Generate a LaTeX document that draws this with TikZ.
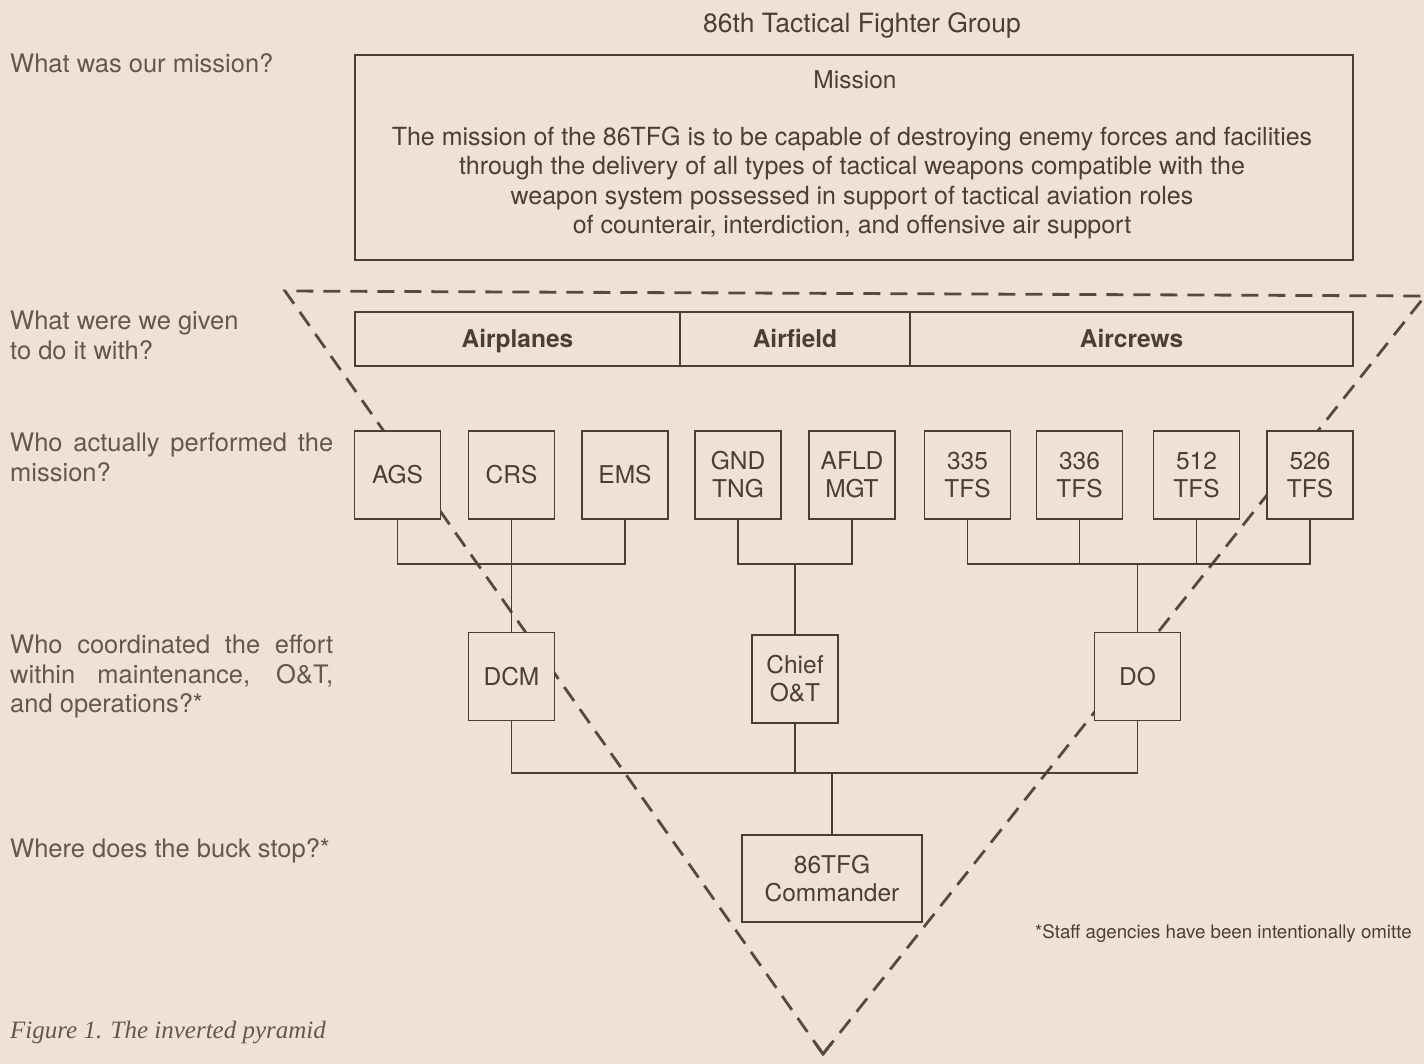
\documentclass[tikz,border=0pt]{standalone}
\usepackage{fontspec}
\setmainfont{TeX Gyre Heros}
\newfontfamily\capfont{Liberation Serif}
\usetikzlibrary{positioning,calc}
\definecolor{paper}{HTML}{EFE2D5}
\definecolor{ink}{HTML}{4B3E36}
\definecolor{pencil}{HTML}{66564C}
\definecolor{rule}{HTML}{5A4840}
\newcommand{\jline}[1]{\makebox[323pt][s]{#1}}
\tikzset{
  unit/.style={draw=ink,line width=1.6pt,fill=paper,text=ink,align=center,font=\fontsize{24.5}{28}\selectfont,minimum width=86pt,minimum height=88pt,inner sep=2pt},
  wide/.style={unit,minimum width=180pt,minimum height=87pt},
  asset/.style={draw=ink,line width=1.6pt,fill=paper,text=ink,font=\fontsize{24.5}{28}\selectfont\bfseries,minimum height=54pt,inner sep=0pt,outer sep=0pt,text height=18pt,text depth=0pt},
  ask/.style={text=pencil,font=\fontsize{25.5}{29.5}\selectfont,align=left,anchor=north west,inner sep=0pt},
  link/.style={draw=ink,line width=1.6pt},
  pyramid/.style={draw=rule,line width=2.8pt,dash pattern=on 17pt off 10pt},
  tip/.style={draw=rule,line width=2.8pt}
}
\begin{document}
\begin{tikzpicture}[x=1pt,y=-1pt]
  \useasboundingbox (0,0) rectangle (1424,1064);
  \clip (0,0) rectangle (1424,1064);
  \fill[paper] (0,0) rectangle (1424,1064);

  % the inverted pyramid goes first, boxes cover it
  \coordinate (tl) at (285,291);
  \coordinate (tr) at (1425,296);
  \coordinate (apex) at (823,1054);
  \draw[pyramid] (apex) -- (tl) -- (tr);
  \draw[pyramid] (apex) -- (tr);
  \draw[tip] ($(apex)!14pt!(tl)$) -- (apex) -- ($(apex)!14pt!(tr)$);

  \node[ask,anchor=base,text=ink,font=\fontsize{26.5}{30}\selectfont] (title) at (862,33) {86th Tactical Fighter Group};
  \node[ask] (q1) at (10,53) {What was our mission?};
  \node[ask] (q2) at (10,311) {What were we given\\to do it with?};
  \node[ask] (q3) at (10,433) {\jline{Who actually performed the}\\mission?};
  \node[ask] (q4) at (10,635) {\jline{Who coordinated the effort}\\\jline{within maintenance, O\&T,}\\and operations?*};
  \node[ask] (q5) at (10,838) {Where does the buck stop?*};

  \node[draw=ink,line width=1.6pt,minimum width=998pt,minimum height=205pt] (mission) at (854,157.5) {};
  \node[text=ink,font=\fontsize{24.5}{29.5}\selectfont] (mhead) at (855,80) {Mission};
  \node[text=ink,font=\fontsize{25}{29.5}\selectfont,align=center] (mtext) at (852,183) {The mission of the 86TFG is to be capable of destroying enemy forces and facilities\\through the delivery of all types of tactical weapons compatible with the\\weapon system possessed in support of tactical aviation roles\\of counterair, interdiction, and offensive air support};

  \node[asset,minimum width=325pt] (planes) at (517.5,339) {Airplanes};
  \node[asset,minimum width=230pt,right=0pt of planes] (field) {Airfield};
  \node[asset,minimum width=443pt,right=0pt of field] (crews) {Aircrews};

  \node[unit] (ags) at (397.5,475) {AGS};
  \node[unit] (crs) at (511.5,475) {CRS};
  \node[unit] (ems) at (625,475) {EMS};
  \node[unit] (gnd) at (738,475) {GND\\TNG};
  \node[unit] (afld) at (852,475) {AFLD\\MGT};
  \node[unit] (s335) at (967.5,475) {335\\TFS};
  \node[unit] (s336) at (1079.5,475) {336\\TFS};
  \node[unit] (s512) at (1196.5,475) {512\\TFS};
  \node[unit] (s526) at (1310,475) {526\\TFS};

  \node[unit] (dcm) at (511.5,676.5) {DCM};
  \node[unit] (chief) at (795,679) {Chief\\O\&T};
  \node[unit] (do) at (1137.5,676.5) {DO};
  \node[wide] (cc) at (832,878.5) {86TFG\\Commander};

  \coordinate (bus) at (0,564);
  \coordinate (low) at (0,773);
  \draw[link] (ags.south) |- (ems.south |- bus) -- (ems.south);
  \draw[link] (crs.south) -- (dcm.north);
  \draw[link] (gnd.south) |- (afld.south |- bus) -- (afld.south);
  \draw[link] (chief.north) -- (chief.north |- bus);
  \draw[link] (s335.south) |- (s526.south |- bus) -- (s526.south);
  \draw[link] (s336.south) -- (s336.south |- bus);
  \draw[link] (s512.south) -- (s512.south |- bus);
  \draw[link] (do.north) -- (do.north |- bus);
  \draw[link] (dcm.south) |- (do.south |- low) -- (do.south);
  \draw[link] (chief.south) -- (chief.south |- low);
  \draw[link] (cc.north) -- (cc.north |- low);

  \node[text=ink,font=\fontsize{18.7}{21}\selectfont,anchor=base west,inner sep=0pt] (note) at (1035,938) {*Staff agencies have been intentionally omitte};
  \node[text=pencil,font=\capfont\itshape\fontsize{25}{30}\selectfont,anchor=base west,inner sep=0pt] (caption) at (10,1038) {Figure 1. The inverted pyramid};
\end{tikzpicture}
\end{document}
